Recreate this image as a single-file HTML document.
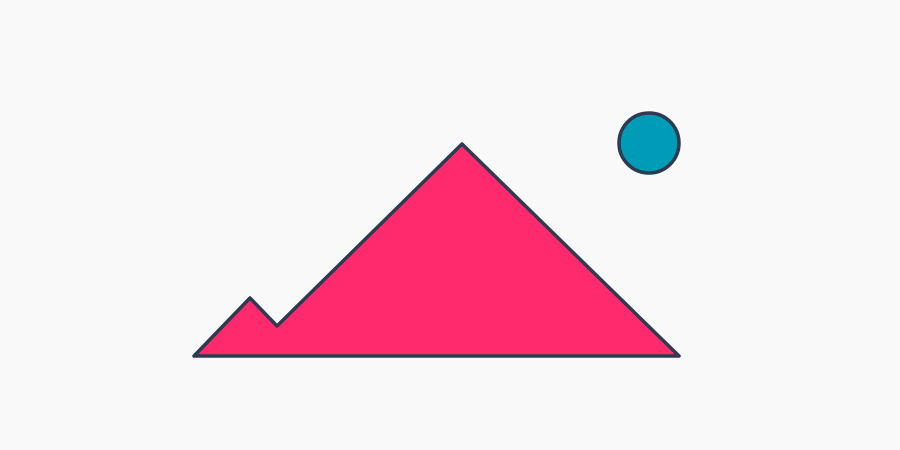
<!DOCTYPE html>
<html>
<head>
<meta charset="utf-8">
<style>
  html,body{margin:0;padding:0;background:#f9f9f9;width:900px;height:450px;overflow:hidden;}
  svg{display:block;}
</style>
</head>
<body>
<svg width="900" height="450" viewBox="0 0 900 450" xmlns="http://www.w3.org/2000/svg">
  <rect x="0" y="0" width="900" height="450" fill="#f9f9f9"/>
  <polygon points="194,356 250,298 277,326 462,144 679,356" fill="#ff2a6d" stroke="#2e3a50" stroke-width="3.5" stroke-linejoin="round"/>
  <circle cx="649" cy="143" r="30" fill="#009bb6" stroke="#2e3a50" stroke-width="3.5"/>
</svg>
</body>
</html>
